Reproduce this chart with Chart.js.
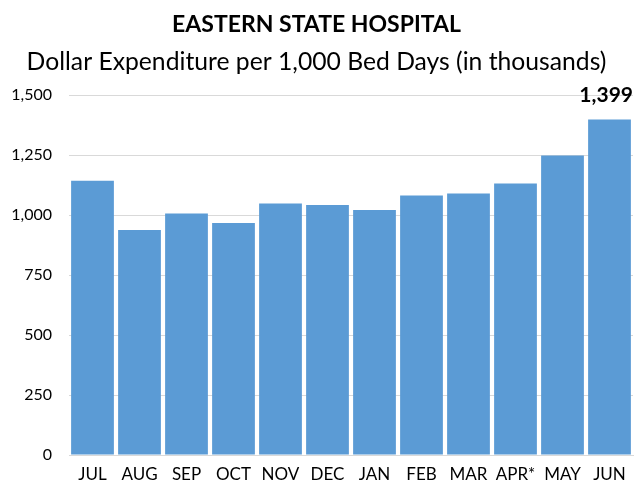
<!DOCTYPE html>
<html>
<head>
<meta charset="utf-8">
<script src="https://cdn.jsdelivr.net/npm/chart.js@4"></script>
<style>
  html, body { margin: 0; padding: 0; background: #fff; }
  #wrap { width: 635px; height: 484px; }
</style>
</head>
<body>
<div id="wrap"><canvas id="chart" width="635" height="484"></canvas></div>
<script>
const months = ['JUL', 'AUG', 'SEP', 'OCT', 'NOV', 'DEC', 'JAN', 'FEB', 'MAR', 'APR*', 'MAY', 'JUN']
const expenditure = [1143, 938, 1007, 967, 1049, 1042, 1021, 1082, 1090, 1132, 1249, 1399]
const yTicks = [0, 250, 500, 750, 1000, 1250, 1500]

const fontFamily = 'Lato, "Open Sans", sans-serif'

// label only the last bar, like the original
const lastLabel = {
    id: 'lastLabel',
    afterDatasetsDraw(chart) {
        const meta = chart.getDatasetMeta(0)
        const i = expenditure.length - 1
        const bar = meta.data[i]
        const ctx = chart.ctx
        const text = expenditure[i].toLocaleString('en-US')
        ctx.save()
        ctx.font = 'bold 21px ' + fontFamily
        ctx.fillStyle = '#000'
        ctx.textAlign = 'center'
        ctx.textBaseline = 'alphabetic'
        const w = ctx.measureText(text).width
        const x = Math.min(bar.x, chart.width - 2 - w / 2)
        ctx.fillText(text, x, bar.y - 17)
        ctx.restore()
    }
}

new Chart(document.getElementById('chart').getContext('2d'), {
    type: 'bar',
    data: {
        labels: months,
        datasets: [{
            data: expenditure,
            backgroundColor: '#5b9bd5',
            borderWidth: 0,
            categoryPercentage: 1,
            barPercentage: 0.91
        }]
    },
    options: {
        responsive: false,
        animation: false,
        layout: { padding: { left: 0, right: 2, top: 0, bottom: 0 } },
        plugins: {
            legend: { display: false },
            tooltip: { enabled: false },
            title: {
                display: true,
                text: 'EASTERN STATE HOSPITAL',
                color: '#000',
                font: { family: fontFamily, size: 23, weight: 'bold' },
                padding: { top: 11, bottom: 0 }
            },
            subtitle: {
                display: true,
                text: 'Dollar Expenditure per 1,000 Bed Days (in thousands)',
                color: '#000',
                font: { family: fontFamily, size: 24.7 },
                padding: { top: 9, bottom: 18 }
            }
        },
        scales: {
            x: {
                afterFit(scale) {
                    scale.height = 29
                },
                grid: { display: false, drawTicks: false },
                border: { color: '#d9d9d9', width: 1 },
                ticks: {
                    color: '#000',
                    font: { family: fontFamily, size: 17 },
                    padding: 9,
                    maxRotation: 0,
                    autoSkip: false
                }
            },
            y: {
                min: 0,
                max: 1500,
                afterBuildTicks(scale) {
                    scale.ticks = yTicks.map(v => ({ value: v }))
                },
                afterFit(scale) {
                    scale.width = 69
                },
                grid: { color: '#d9d9d9', lineWidth: 1, drawTicks: false },
                border: { display: false },
                ticks: {
                    color: '#000',
                    font: { family: fontFamily, size: 16 },
                    padding: 17,
                    callback: v => v.toLocaleString('en-US')
                }
            }
        }
    },
    plugins: [lastLabel]
})
</script>
</body>
</html>
